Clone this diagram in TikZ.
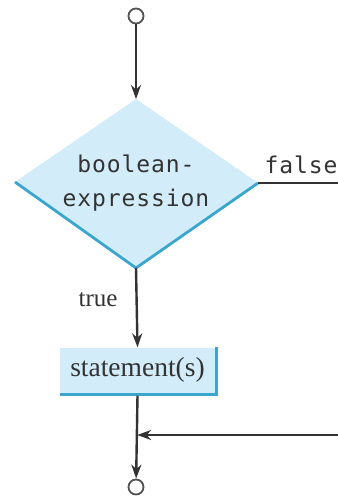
\documentclass[tikz,border=0pt]{standalone}
\usepackage{fontspec}
\setmainfont{Liberation Serif}
\newfontfamily\monofont[LetterSpace=4]{DejaVu Sans Mono}
\usetikzlibrary{arrows.meta}
\definecolor{boxfill}{HTML}{D2ECF9}
\definecolor{edgeblue}{HTML}{3AA5CD}
\definecolor{ink}{HTML}{333333}
\tikzset{
  flow/.style={draw=ink, line width=2.4pt, -{Stealth[length=14pt,width=10pt]}},
  plain/.style={draw=ink, line width=2.4pt},
  term/.style={circle, draw=ink!85, line width=1.8pt, minimum size=15pt, inner sep=0pt, fill=white},
  stmtbox/.style={fill=boxfill, minimum width=155pt, minimum height=45pt, inner sep=0pt, text=ink, font=\fontsize{27.5}{30}\selectfont},
  monolabel/.style={text=ink, font=\monofont\fontsize{23}{34}\selectfont, align=center},
  seriflabel/.style={text=ink, font=\fontsize{25}{28}\selectfont}
}
\begin{document}
\begin{tikzpicture}[x=1pt,y=-1pt]
\useasboundingbox (0,0) rectangle (337,497);
% diamond
\coordinate (dtop) at (136,99);
\coordinate (dleft) at (15,182);
\coordinate (dright) at (258,183);
\coordinate (dbot) at (136,268);
\fill[boxfill] (dtop) -- (dright) -- (dbot) -- (dleft) -- cycle;
\draw[edgeblue, line width=2.8pt, line join=miter] (dleft) -- (dbot) -- (dright);
\node[monolabel] (cond) at (136,183) {boolean-\\expression};
% terminals
\node[term] (start) at (136,16) {};
\node[term] (stop) at (136,487) {};
% statement box
\node[stmtbox] (stmt) at (137.5,370) {statement(s)};
\draw[edgeblue, line width=3pt] ([yshift=-1.5pt]stmt.south west) -- ([xshift=1.5pt,yshift=-1.5pt]stmt.south east) -- ([xshift=1.5pt]stmt.north east);
% labels
\node[seriflabel, anchor=east] (tlab) at (121,300) {true};
\node[monolabel, anchor=west] (flab) at (261,165) {false};
% coordinates for loop
\coordinate (fr) at (340,183);
\coordinate (br) at (340,435);
\coordinate (join) at (136,435);
% connectors
\draw[flow] (start) -- (dtop);
\draw[flow] (dbot) -- (stmt.north);
\draw[flow] ([yshift=-3pt]stmt.south) -- (stop);
\draw[plain] (dright) -- (fr);
\draw[flow] (br) -- ([xshift=1.2pt]join);
\end{tikzpicture}
\end{document}
